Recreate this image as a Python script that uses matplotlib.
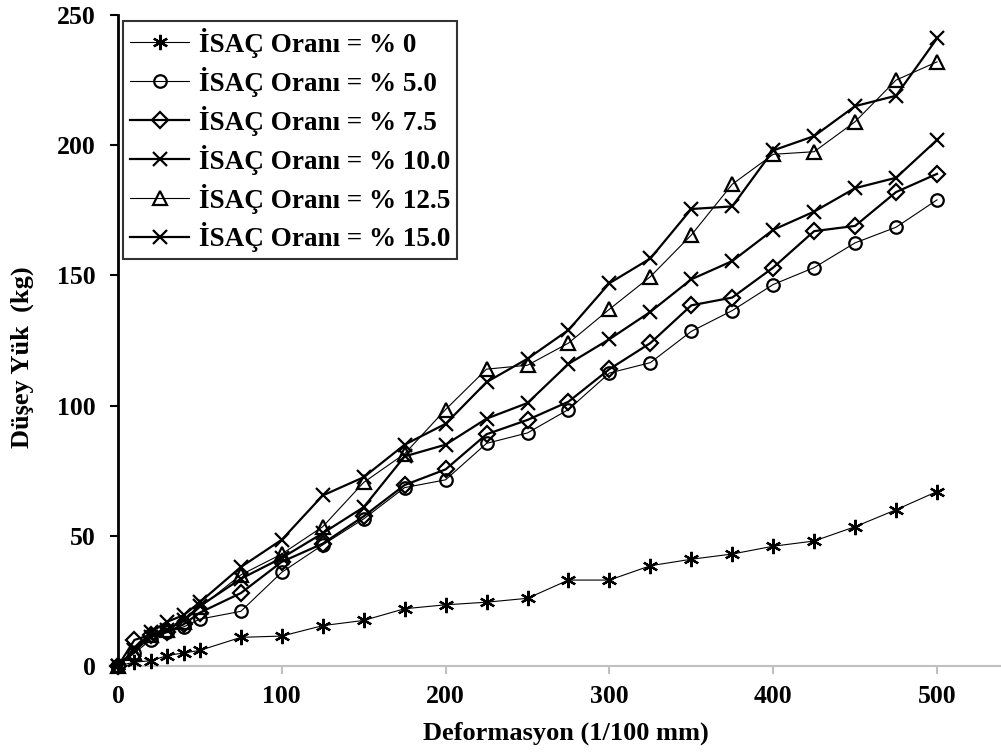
import matplotlib
matplotlib.use('Agg')
import matplotlib.pyplot as plt

# ==========================================
# DADOS
# ==========================================
deformasyon = [0, 10, 20, 30, 40, 50, 75, 100, 125, 150, 175, 200, 225, 250,
               275, 300, 325, 350, 375, 400, 425, 450, 475, 500]

yuk_0 = [0, 1.5, 2, 4, 5, 6, 11, 11.5, 15.5, 17.5, 22, 23.5, 24.5, 26,
         33, 33, 38.5, 41, 43, 46, 48, 53.5, 60, 67]
yuk_5 = [0, 5, 10, 13, 15, 18, 21, 36, 46.5, 56.5, 68.5, 71.5, 85.5, 89.5,
         98.5, 112.5, 116.5, 128.5, 136.5, 146.5, 153, 162.5, 168.5, 179]
yuk_7_5 = [0, 10, 12, 13, 16, 20.5, 28, 40, 47, 57.5, 69.5, 75.5, 89, 94.5,
           101.5, 114, 124, 138.5, 141.5, 153, 167, 169, 182, 189]
yuk_10 = [0, 6, 11, 14, 17.5, 23, 33.5, 41.5, 51, 61, 80.5, 85, 95, 101,
          116, 125.5, 136, 148.5, 155.5, 167.5, 174.5, 183.5, 187.5, 202]
yuk_12_5 = [0, 5, 12, 14, 17, 22.5, 35, 43, 53.5, 70.5, 81.5, 98.5, 114, 115.5,
            124, 137, 149.5, 165.5, 185, 196.5, 197.5, 209, 225, 232]
yuk_15 = [0, 6, 13, 17, 19.5, 24.5, 38, 48.5, 65.5, 72.5, 85, 93, 109, 118,
          129, 147, 156.5, 175.5, 176.5, 198, 203.5, 215, 219, 241]

etiketler = ['İSAÇ Oranı = % 0', 'İSAÇ Oranı = % 5.0', 'İSAÇ Oranı = % 7.5',
             'İSAÇ Oranı = % 10.0', 'İSAÇ Oranı = % 12.5', 'İSAÇ Oranı = % 15.0']

# ==========================================
# GRÁFICO
# ==========================================
plt.rcParams['font.family'] = ['Liberation Serif', 'DejaVu Serif']
plt.rcParams['font.weight'] = 'bold'

fig = plt.figure(figsize=(10.01, 7.56), dpi=100)
ax = fig.add_axes([118 / 1001, 90 / 756, (1001 - 118) / 1001, 651 / 756])

series = [
    (yuk_0, (6, 2, 0), 0.8, 11),
    (yuk_5, 'o', 0.8, 9),
    (yuk_7_5, 'D', 1.6, 8),
    (yuk_10, 'x', 1.6, 10),
    (yuk_12_5, '^', 0.8, 10),
    (yuk_15, 'x', 1.6, 10),
]

for (valores, marcador, lw, ms), etiqueta in zip(series, etiketler):
    ax.plot(deformasyon, valores, color='black', linewidth=lw,
            marker=marcador, markersize=ms, markerfacecolor='none',
            markeredgecolor='black', markeredgewidth=1.6,
            label=etiqueta, clip_on=False, zorder=3)

ax.set_xlim(0, (1001 - 118) / 1.638)
ax.set_ylim(0, 250)
ax.set_xticks([0, 100, 200, 300, 400, 500])
ax.set_yticks([0, 50, 100, 150, 200, 250])

ax.spines['top'].set_visible(False)
ax.spines['right'].set_visible(False)
ax.spines['left'].set_linewidth(2)
ax.spines['left'].set_color('black')
ax.spines['bottom'].set_linewidth(1.5)
ax.spines['bottom'].set_color('#c0c0c0')

ax.tick_params(axis='y', direction='out', length=6, width=1.5, color='black',
               labelsize=18.5, pad=10)
ax.tick_params(axis='x', direction='out', length=6, width=1.5, color='#c0c0c0',
               labelsize=18.5, pad=8)
for lbl in ax.get_xticklabels() + ax.get_yticklabels():
    lbl.set_fontweight('bold')

ax.set_xlabel('Deformasyon (1/100 mm)', fontsize=19, fontweight='bold', va='center')
ax.xaxis.set_label_coords((566 - 118) / 883, (666 - 733) / 651)
ax.set_ylabel('Düşey Yük  (kg)', fontsize=19, fontweight='bold', va='center')
ax.yaxis.set_label_coords((22 - 118) / 883, (666 - 357) / 651)

leg = ax.legend(loc='upper left', bbox_to_anchor=(123 / 1001, 1 - 21 / 756),
                bbox_transform=fig.transFigure, fontsize=19.5, frameon=True,
                fancybox=False, edgecolor='black', handlelength=2.2,
                handletextpad=0.35, labelspacing=0.33, borderpad=0.25,
                borderaxespad=0)
leg.get_frame().set_linewidth(1.5)
for t in leg.get_texts():
    t.set_fontweight('bold')

fig.savefig('out.png', dpi=100)
